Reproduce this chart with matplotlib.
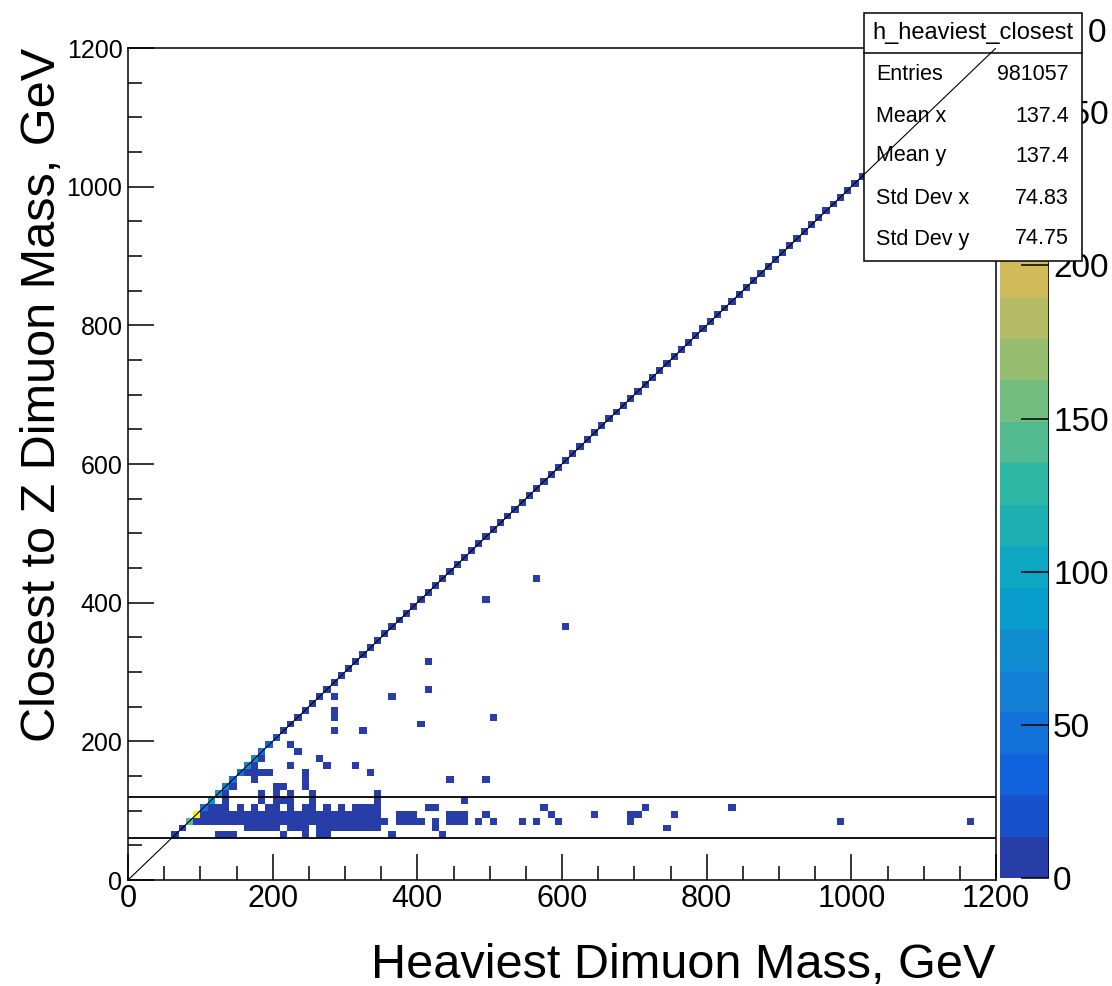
import numpy as np
import matplotlib.pyplot as plt
from matplotlib.colors import LinearSegmentedColormap, ListedColormap, BoundaryNorm
from matplotlib.patches import Rectangle
from matplotlib.lines import Line2D
from matplotlib.ticker import MultipleLocator

plt.rcParams['font.family'] = ['Liberation Sans', 'DejaVu Sans']

W, H = 1112, 986
bin_edges = np.arange(0, 1201, 10)
z_max = 271
n_contours = 20

# diagonal cells: heaviest pair == closest-to-Z pair
diag_x = list(range(60, 1200, 10))
diag_counts = [6, 9, 145, 268, 50, 90, 85, 60, 45, 50,
               70, 72, 48, 32, 20, 13, 12, 12, 11, 10,
               10, 9, 9, 8, 8, 8, 7, 7, 7, 6,
               6, 6, 5, 5, 5, 5, 4, 4, 4, 4,
               4, 3, 3, 3, 3, 3, 3, 3, 2, 2,
               2, 2, 2, 2, 2, 2, 2, 2, 2, 2,
               2, 2, 2, 2, 1, 2, 1, 1, 1, 1,
               1, 1, 1, 1, 1, 1, 1, 1, 1, 1,
               1, 1, 1, 1, 1, 1, 1, 1, 1, 1,
               1, 1, 1, 1, 1, 1, 1, 1, 1, 1,
               1, 1, 1, 1, 1, 1, 1, 1, 1, 1,
               1, 1, 1, 1]

# off-diagonal cells: closest-to-Z bin -> (heaviest bins, entries per cell)
slab_80 = [90] + list(range(100, 350, 10)) + [350, 370, 380, 390, 400, 420, 440, 450, 460,
                                               480, 500, 540, 560, 590, 690, 980, 1160]
slab_90 = list(range(100, 340, 10)) + [340, 370, 380, 390, 440, 450, 460, 490, 580, 640,
                                       690, 700, 750]
slab_100 = [110, 120, 130, 150, 170, 190, 200, 220, 240, 250, 270, 290, 310, 320, 330, 340,
            410, 420, 570, 710, 830]
slab_70 = [160, 170, 180, 190, 200, 220, 230, 240, 260, 270, 280, 290, 300, 310, 320, 330,
           340, 420, 740]
rows = {
    60: ([120, 130, 140, 210, 240, 260, 270, 360, 430], 2),
    70: (slab_70, 4),
    80: (slab_80, 6),
    90: (slab_90, 6),
    100: (slab_100, 4),
    110: ([130, 180, 200, 210, 220, 250, 340, 460], 2),
    120: ([130, 180, 200, 220, 250, 340], 2),
    130: ([140, 200, 210, 240], 2),
    140: ([170, 240, 440, 490], 1),
    150: ([160, 170, 180, 190, 240, 330], 2),
    160: ([170, 220, 270, 310], 1),
    170: ([180, 260], 1),
    180: ([230], 1),
    190: ([220], 1),
    210: ([280, 320], 1),
    220: ([400], 1),
    230: ([280, 500], 1),
    240: ([280], 1),
    260: ([280, 360], 1),
    270: ([410], 1),
    310: ([410], 1),
    360: ([600], 1),
    400: ([490], 1),
    430: ([560], 1),
}

stats_labels = ["Entries", "Mean x", "Mean y", "Std Dev x", "Std Dev y"]
stats_values = ["981057", "137.4", "137.4", "74.83", "74.75"]

# ROOT kBird palette
bird_stops = [0.0, 0.125, 0.25, 0.375, 0.5, 0.625, 0.75, 0.875, 1.0]
bird_r = [0.2082, 0.0592, 0.0780, 0.0232, 0.1802, 0.5301, 0.8186, 0.9956, 0.9764]
bird_g = [0.1664, 0.3599, 0.5041, 0.6419, 0.7178, 0.7492, 0.7328, 0.7862, 0.9832]
bird_b = [0.5293, 0.8684, 0.8385, 0.7914, 0.6425, 0.4662, 0.3499, 0.1968, 0.0539]
bird = LinearSegmentedColormap.from_list(
    "bird", list(zip(bird_stops, zip(bird_r, bird_g, bird_b))), N=255)
band_colors = [bird(int((i + 0.99) * 255 / n_contours) / 254) for i in range(n_contours)]
cmap = ListedColormap(band_colors)
norm = BoundaryNorm(np.linspace(0, z_max, n_contours + 1), n_contours)

hist = np.zeros((120, 120))
for x, c in zip(diag_x, diag_counts):
    hist[x // 10, x // 10] += c
for y, (xs, c) in rows.items():
    for x in xs:
        hist[x // 10, y // 10] += c
hist = np.ma.masked_equal(hist, 0)


def fx(px):
    return px / W


def fy(py):
    return 1 - py / H


fig = plt.figure(figsize=(W / 100, H / 100), dpi=100)
ax = fig.add_axes([fx(128), fy(880), fx(996) - fx(128), fy(48) - fy(880)])
cax = fig.add_axes([fx(1000), fy(878), fx(1049) - fx(1000), fy(48) - fy(878)])
ax.set_zorder(3)

mesh = ax.pcolormesh(bin_edges, bin_edges, hist.T, cmap=cmap, norm=norm)

ax.plot([0, 1200], [0, 1200], color='black', lw=0.8, zorder=10)
ax.axhline(60, color='black', lw=1.3, zorder=9)
ax.axhline(120, color='black', lw=1.3, zorder=9)

ax.set_xlim(0, 1200)
ax.set_ylim(0, 1200)
ax.xaxis.set_major_locator(MultipleLocator(200))
ax.xaxis.set_minor_locator(MultipleLocator(50))
ax.yaxis.set_major_locator(MultipleLocator(200))
ax.yaxis.set_minor_locator(MultipleLocator(50))
ax.tick_params(which='both', direction='in', width=1.1, top=False, right=False)
ax.tick_params(which='major', length=19)
ax.tick_params(which='minor', length=10)
ax.tick_params(axis='x', labelsize=22, pad=3)
ax.tick_params(axis='y', labelsize=18, pad=4)
for s in ax.spines.values():
    s.set_linewidth(1.1)

cb = fig.colorbar(mesh, cax=cax, ticks=[0, 50, 100, 150, 200, 250])
cb.outline.set_visible(False)
cax.add_line(Line2D([1, 1], [0, 1], transform=cax.transAxes, color='black', lw=1.1))
cax.tick_params(direction='in', length=20, width=1.1, labelsize=24, pad=3)
cax.minorticks_off()

fig.text(fx(995), fy(978), "Heaviest Dimuon Mass, GeV", fontsize=35,
         ha='right', va='baseline')
fig.text(fx(55), fy(48), "Closest to Z Dimuon Mass, GeV", fontsize=35,
         rotation=90, rotation_mode='anchor', ha='right', va='baseline')
fig.text(fx(1088), fy(33), "0", fontsize=24, ha='left', va='center')

# stats box
box = Rectangle((fx(864), fy(261)), fx(1082) - fx(864), fy(13) - fy(261),
                transform=fig.transFigure, facecolor='white', edgecolor='black',
                lw=1.1, clip_on=False, zorder=5)
ax.add_patch(box)
ax.add_line(Line2D([fx(864), fx(1082)], [fy(53), fy(53)], transform=fig.transFigure,
                   color='black', lw=1.1, clip_on=False, zorder=6))
ax.text(fx(973), fy(33), "h_heaviest_closest", transform=fig.transFigure,
        fontsize=17, ha='center', va='center', zorder=6, clip_on=False)
for i, (lab, val) in enumerate(zip(stats_labels, stats_values)):
    yy = [75, 116, 156, 199, 239][i]
    ax.text(fx(876), fy(yy), lab, transform=fig.transFigure, fontsize=15.5,
            ha='left', va='center', zorder=6, clip_on=False)
    ax.text(fx(1069), fy(yy), val, transform=fig.transFigure, fontsize=15.5,
            ha='right', va='center', zorder=6, clip_on=False)

fig.savefig("out.png", dpi=100)
